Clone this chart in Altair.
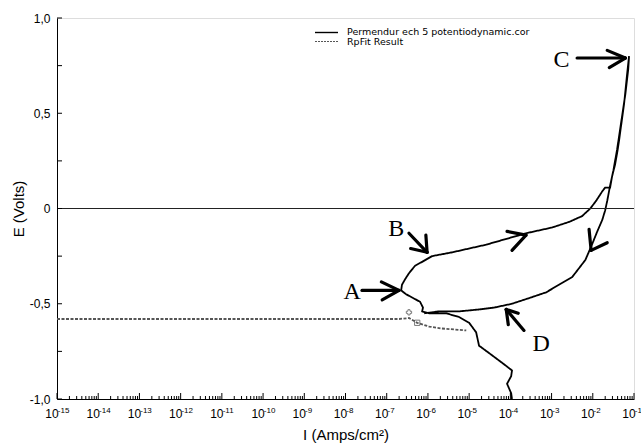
import altair as alt
import pandas as pd

# ---------------- data (log10 of current density, potential in volts) ----------------
main_logI = [-3.96, -3.98, -4.08, -3.98, -3.96, -4.20, -4.51, -4.76, -4.83, -5.00,
             -5.24, -5.56, -5.97, -6.14, -6.12, -6.19, -6.36, -6.53, -6.65, -6.63,
             -6.55, -6.46, -6.31, -6.14, -5.90, -5.41, -4.59, -3.62, -2.99, -2.57,
             -2.26, -2.06, -1.92, -1.77, -1.70, -1.58, -1.53, -1.46, -1.41, -1.36,
             -1.31, -1.24, -1.17, -1.12, -1.14, -1.21, -1.32, -1.41, -1.50, -1.58,
             -1.65, -1.70, -1.77, -1.89, -2.04, -2.18, -2.50, -2.82, -3.13, -3.54,
             -3.96, -4.39, -4.76, -5.24, -5.73, -6.09]
main_E = [-1.00, -0.97, -0.92, -0.88, -0.85, -0.81, -0.76, -0.72, -0.65, -0.60,
          -0.57, -0.55, -0.55, -0.54, -0.52, -0.49, -0.47, -0.45, -0.43, -0.40,
          -0.37, -0.34, -0.30, -0.28, -0.25, -0.23, -0.19, -0.13, -0.10, -0.07,
          -0.04, 0.00, 0.04, 0.09, 0.11, 0.11, 0.17, 0.23, 0.29, 0.36,
          0.44, 0.55, 0.70, 0.80, 0.73, 0.60, 0.44, 0.31, 0.20, 0.12,
          0.04, -0.01, -0.06, -0.12, -0.20, -0.27, -0.36, -0.40, -0.44, -0.47,
          -0.50, -0.52, -0.53, -0.54, -0.54, -0.55]

fit_logI = [-15.0, -6.70, -6.46, -6.26, -5.97, -5.66, -5.07]
fit_E = [-0.58, -0.58, -0.575, -0.60, -0.62, -0.63, -0.64]

series_names = ["Permendur ech 5 potentiodynamic.cor", "RpFit Result"]

marker_logI = [-6.26, -6.46]
marker_E = [-0.60, -0.545]
marker_shape = ["square", "cross"]

# arrow segments (shafts and heads), in log10(I) / E
arrow_x1 = [-7.60, -7.13, -7.11,    # A
            -6.46, -6.42, -6.05,    # B
            -4.08, -3.96,           # forward sweep
            -3.67, -3.81, -4.05,    # D
            -2.38, -1.65, -1.60,    # C
            -2.09, -1.65]           # reverse sweep
arrow_y1 = [-0.43, -0.385, -0.48,
            -0.13, -0.21, -0.14,
            -0.12, -0.22,
            -0.64, -0.55, -0.61,
            0.79, 0.83, 0.74,
            -0.11, -0.18]
arrow_x2 = [-6.72, -6.70, -6.70,
            -6.02, -6.02, -6.02,
            -3.62, -3.62,
            -4.10, -4.10, -4.10,
            -1.21, -1.21, -1.21,
            -2.04, -2.04]
arrow_y2 = [-0.43, -0.43, -0.43,
            -0.23, -0.23, -0.23,
            -0.14, -0.14,
            -0.53, -0.53, -0.53,
            0.79, 0.79, 0.79,
            -0.22, -0.22]

letter_text = ["A", "B", "C", "D"]
letter_logI = [-7.84, -6.77, -2.76, -3.25]
letter_E = [-0.44, -0.11, 0.78, -0.71]

x_exponents = list(range(-15, 0))
x_minor_mult = [2, 3, 4, 5, 6, 7, 8, 9]
y_major = [-1.0, -0.5, 0.0, 0.5, 1.0]
y_major_labels = ["-1,0", "-0,5", "0", "0,5", "1,0"]
y_minor = [-0.75, -0.25, 0.25, 0.75]
zero_line = [0.0]

# ---------------- tables ----------------
curve_df = pd.concat([
    pd.DataFrame({"I": [10 ** v for v in main_logI], "E": main_E,
                  "series": series_names[0], "idx": range(len(main_E))}),
    pd.DataFrame({"I": [10 ** v for v in fit_logI], "E": fit_E,
                  "series": series_names[1], "idx": range(len(fit_E))}),
])
marker_df = pd.DataFrame({"I": [10 ** v for v in marker_logI], "E": marker_E, "shape": marker_shape})
arrow_df = pd.DataFrame({"I": [10 ** v for v in arrow_x1], "E": arrow_y1,
                         "I2": [10 ** v for v in arrow_x2], "E2": arrow_y2})
letter_df = pd.DataFrame({"I": [10 ** v for v in letter_logI], "E": letter_E, "t": letter_text})
major_df = pd.DataFrame({"I": [10.0 ** e for e in x_exponents], "exp": [str(e) for e in x_exponents]})
minor_df = pd.DataFrame({"I": [m * 10.0 ** e for e in x_exponents[:-1] for m in x_minor_mult]})
ytick_df = pd.DataFrame({"E": y_major + y_minor})
zero_df = pd.DataFrame({"E": zero_line})
leg_df = pd.DataFrame({"series": series_names})

W, H = 577, 381
xscale = alt.Scale(type="log", domain=[1e-15, 1e-1], nice=False)
yscale = alt.Scale(domain=[-1, 1], nice=False, zero=False)

label_array = "[" + ",".join("'" + s + "'" for s in y_major_labels) + "]"

x_axis = alt.Axis(values=[10.0 ** e for e in x_exponents], labelExpr="'10'",
                  labelFontSize=12, labelOffset=-5.5, labelPadding=9, labelFlush=False,
                  labelOverlap=False, ticks=False, tickSize=0, grid=False,
                  domainColor="black", labelColor="black",
                  title="I (Amps/cm²)", titleFontSize=15, titleFontWeight="normal",
                  titlePadding=8, titleColor="black")
y_axis = alt.Axis(values=y_major, labelExpr=label_array + "[round(datum.value*2)+2]",
                  labelFontSize=12, labelPadding=7, ticks=False, tickSize=0, grid=False,
                  domainColor="black", labelColor="black",
                  title="E (Volts)", titleFontSize=15, titleFontWeight="normal",
                  titlePadding=3, titleColor="black")

X = lambda f="I:Q": alt.X(f, scale=xscale, axis=x_axis)
Y = lambda f="E:Q": alt.Y(f, scale=yscale, axis=y_axis)

curves = alt.Chart(curve_df).mark_line(strokeWidth=1.8, clip=True).encode(
    x=X(), y=Y(),
    color=alt.Color("series:N", scale=alt.Scale(domain=series_names, range=["black", "#555555"]),
                    legend=None),
    strokeDash=alt.StrokeDash("series:N",
                              scale=alt.Scale(domain=series_names, range=[[1, 0], [3, 1.5]]),
                              legend=None),
    order="idx:Q",
)

markers = alt.Chart(marker_df).mark_point(size=28, color="#444444", strokeWidth=1).encode(
    x=X(), y=Y(), shape=alt.Shape("shape:N", scale=None),
)

zero = alt.Chart(zero_df).mark_rule(color="#222222", strokeWidth=1).encode(y=Y())

xmaj = alt.Chart(major_df).mark_rule(color="black", strokeWidth=1).encode(
    x=X(), y=alt.value(H), y2=alt.value(H - 6))
xmin = alt.Chart(minor_df).mark_rule(color="black", strokeWidth=1).encode(
    x=X(), y=alt.value(H), y2=alt.value(H - 3))
xexp = alt.Chart(major_df).mark_text(align="left", baseline="alphabetic", fontSize=8,
                                     dx=0.8, font="Liberation Sans", color="black").encode(
    x=X(), y=alt.value(H + 14), text="exp:N")
yt = alt.Chart(ytick_df).mark_rule(color="black", strokeWidth=1).encode(
    y=Y(), x=alt.value(0), x2=alt.value(5))

arrows = alt.Chart(arrow_df).mark_rule(color="black", strokeWidth=3.2, strokeCap="round").encode(
    x=X(), x2="I2:Q", y=Y(), y2="E2:Q")

letters = alt.Chart(letter_df).mark_text(font="Liberation Serif", fontSize=24, color="black",
                                         align="center", baseline="middle").encode(
    x=X(), y=Y(), text="t:N")

# legend rows (drawn inside the plot area, as in the original)
leg1 = alt.Chart(leg_df).transform_filter(alt.datum.series == series_names[0])
leg2 = alt.Chart(leg_df).transform_filter(alt.datum.series == series_names[1])
leg_line1 = leg1.mark_rule(color="black", strokeWidth=1.4).encode(
    x=alt.value(258), x2=alt.value(281), y=alt.value(14.5))
leg_line2 = leg2.mark_rule(color="#555555", strokeWidth=1.2, strokeDash=[2, 1]).encode(
    x=alt.value(258), x2=alt.value(281), y=alt.value(23.5))
leg_text1 = leg1.mark_text(align="left", baseline="middle", fontSize=9.5, color="black",
                           font="DejaVu Sans").encode(
    x=alt.value(290), y=alt.value(14), text="series:N")
leg_text2 = leg2.mark_text(align="left", baseline="middle", fontSize=9.5, color="black",
                           font="DejaVu Sans").encode(
    x=alt.value(290), y=alt.value(24), text="series:N")

chart = alt.layer(curves, zero, xmin, xmaj, yt, xexp, markers, arrows, letters,
                  leg_line1, leg_line2, leg_text1, leg_text2).properties(
    width=W, height=H,
    padding={"left": 57, "top": 18, "right": 7, "bottom": 48},
    autosize=alt.AutoSizeParams(type="none"),
).configure_view(stroke="black", strokeWidth=1).configure(
    font="Liberation Sans", background="white"
).configure_axis(labelFont="Liberation Sans", titleFont="Liberation Sans")

chart.save("out.html", embed_options={"renderer": "svg", "actions": False})
